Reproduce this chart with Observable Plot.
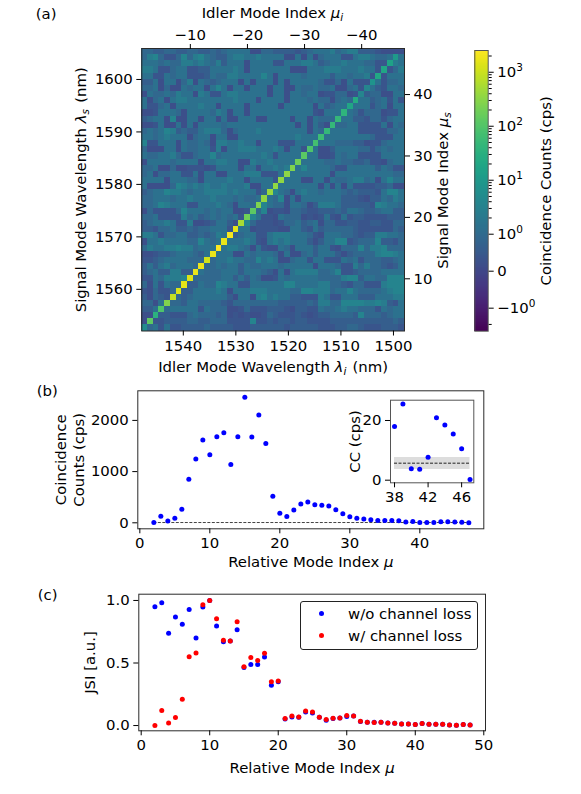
<!DOCTYPE html>
<html>
<head>
<meta charset="utf-8">
<script src="https://cdn.jsdelivr.net/npm/d3@7"></script>
<script src="https://cdn.jsdelivr.net/npm/@observablehq/plot@0.6"></script>
<style>
html,body{margin:0;padding:0;background:#fff}
#root{position:relative;width:581px;height:794px;overflow:hidden;font-family:"DejaVu Sans",sans-serif;font-size:14.9px;color:#000}
#root svg{position:absolute;overflow:visible;background:transparent}
#legend{position:absolute;left:300px;top:600.5px;width:176px;height:47px;border:1px solid #222;border-radius:3px;background:#fff}
#legend .row{position:absolute;left:47px;white-space:nowrap;line-height:16px}
#legend i{position:absolute;width:5.2px;height:5.2px;border-radius:50%}
</style>
</head>
<body>
<div id="root"></div>
<script>
// ---------- data ----------
// Coincidence counts by relative mode index (panel b, and the diagonal of panel a)
const modesB = [2,3,4,5,6,7,8,9,10,11,12,13,14,15,16,17,18,19,20,21,22,23,24,25,26,27,28,29,30,31,32,33,34,35,36,37,38,39,40,41,42,43,44,45,46,47];
const counts = [5,130,33,91,267,853,1244,1615,1329,1680,1759,1140,1680,2450,1675,2104,1550,521,189,124,248,365,404,352,345,326,254,176,117,91,72,59,46,46,46,39,18,25.5,3.8,3.7,7.7,20.9,18.5,15.5,10.5,0.2];
const noiseMean = 5.7, noiseLow = 3.6, noiseHigh = 7.6;

// JSI (panel c)
const modesC = [2,3,4,5,6,7,8,9,10,11,12,13,14,15,16,17,18,19,20,21,22,23,24,25,26,27,28,29,30,31,32,33,34,35,36,37,38,39,40,41,42,43,44,45,46,47,48];
const jsiNoLoss = [.949,.981,.737,.867,.809,.928,.70,.947,1,.795,.67,.675,.766,.465,.489,.489,.548,.322,.351,.053,.069,.066,.109,.101,.066,.043,.056,.061,.072,.077,.032,.027,.027,.027,.021,.019,.013,.013,.008,.016,.011,.011,.011,.005,.003,.008,.005];
const jsiLoss = [0,.12,.021,.064,.21,.55,.58,.965,1,.854,.681,.675,.83,.471,.543,.519,.577,.351,.356,.056,.077,.069,.117,.109,.066,.048,.059,.061,.08,.077,.035,.027,.024,.027,.021,.019,.013,.013,.008,.016,.011,.011,.011,.005,.003,.008,.005];

// Off-diagonal background of panel a, as estimated colour levels; top row = signal mode 47, left column = idler mode 2
const levelCounts = [-0.1,0.2,0.38,0.62,0.92,1.4,2.3,3.6,5.7];
const heatRows = [
"443344334433434 5555114433332345 556456633321111",
"467422474675433 5665565555115151 455522566544575",
"555454466565463 5551555522555665 345565554422465",
"665224552233555 5651555555511155 566655565522246",
"552254552223544 6655557515555455 553554556222555",
"335155146154345 5515155515155555 422415222152445",
"445141154551575 1551555155115445 445114522532554",
"154454655165225 6655555155155455 122441223441155",
"514515665555555 5655515555155545 441454755345252",
"522451555565515 5551555551555551 534554555245155",
"112555415555465 1551555555555552 155555424441225",
"345517115515515 1155511555515515 444555332442455",
"112511515155554 5555555555551515 312445522225154",
"454576343356664 1455565555555515 445555522222445",
"554565551455155 1155555555556555 755555555422255",
"722555154454166 5565515552225557 555444331224555",
"411155154455261 5566655565155255 113555544245455",
"544556422455745 5555556525555555 112545522225555",
"155554555515566 5511655655555555 544544334221455",
"445114112221255 5515515565655755 554225555535422",
"451445522515511 5556662225555555 551555555555544",
"555515554415555 6551555525555115 515445664515755",
"511114765656556 5556115555555555 151515222233411",
"345576654556666 5655524475415655 455543433325775",
"445554556555655 5454455547151555 555533321335465",
"445765552255565 4155457544155413 666533333276554",
"142222475554545 5112247122144322 333435543345533",
"445222264534545 4524752215444121 252152332222333",
"345565226112355 3117422212445345 144223322332244",
"332445334344555 2755122221155325 344444322222243",
"665244553343465 7345522566655542 155544323366554",
"155655554475453 5556521565655531 355772344473324",
"465566766455565 6654152115415553 552144474667444",
"112334555435555 5115455541511453 555313444467765",
"223455554444455 6554475651145525 522254524443345",
"353564555454454 5535445554555551 555422646443235",
"345336633554445 5535554315156666 445722344445555",
"225466673444445 5353541125455555 444467735544777",
"415254443354476 5522555555775555 664432442226777",
"214224533555565 1555666555544776 664557544445677",
"314325434555555 3155167565533222 652255533355566",
"441554435544443 2444444443333343 664477776676325",
"335545555525444 1124222333213322 544565544425455",
"113332224544434 1212112432223212 334444374443455",
"112233334433444 2222722323323322 223333333333343",
"645252233334333 3222333333233333 222334432223332"
].map(s => s.replace(/ /g, ""));

// Tick values and labels
const idlerModeTicks = [-10,-20,-30,-40];
const signalModeTicks = [10,20,30,40];
const idlerWavelengthTicks = [1540,1530,1520,1510,1500];
const signalWavelengthTicks = [1560,1570,1580,1590,1600];
const colorbarTicks = [-1,0,1,10,100,1000];
const colorbarLabels = ["−10⁰","0","10⁰","10¹","10²","10³"];
const colorbarMinorTicks = [-2,2,3,4,5,6,7,8,9,20,30,40,50,60,70,80,90,200,300,400,500,600,700,800,900,2000];

// ---------- helpers ----------
// symmetric-log colour position of a count value
const LIN = 0.685;
const sym = v => { const a = Math.abs(v); const t = a <= 1 ? LIN * a : LIN + Math.log10(a); return v < 0 ? -t : t; };
const colorDomain = [sym(-2.67), sym(2530)];
const idlerLambdaToMode = l => -1.5 - (1547.9 - l) * 46 / 50;
const signalLambdaToMode = l => 1.5 + (l - 1552.06) * 46 / 53.84;

const cells = [];
heatRows.forEach((row, r) => {
  const ms = 47 - r;
  for (let c = 0; c < 46; ++c) {
    const mi = 2 + c;
    const level = +row[c];
    const value = ms === mi ? counts[modesB.indexOf(mi)] : levelCounts[level];
    cells.push({mi: -mi, ms, value});
  }
});
const ptsB = modesB.map((m, i) => ({m, v: counts[i]}));
const ptsC1 = modesC.map((m, i) => ({m, v: jsiNoLoss[i]}));
const ptsC2 = modesC.map((m, i) => ({m, v: jsiLoss[i]}));

const root = document.getElementById("root");
const FS = 14.9;
const baseStyle = {fontFamily: '"DejaVu Sans", sans-serif', fontSize: FS + "px", background: "transparent", color: "#000"};
const FRAME = "#2a2a2a";
const SVGNS = "http://www.w3.org/2000/svg";
const SUP = {"⁰": "0", "¹": "1", "²": "2", "³": "3"};

function addSpan(holder, txt, attrs) {
  const e = document.createElementNS(SVGNS, "tspan");
  e.textContent = txt;
  for (const k in attrs) e.setAttribute(k, attrs[k]);
  holder.appendChild(e);
}
function mathify(svg) {
  svg.querySelectorAll("text").forEach(t => {
    if (t.querySelectorAll("tspan").length > 1) return;
    const holder = t.querySelector("tspan") || t;
    const s = t.textContent;
    const sup = s.match(/^(.*10)([⁰¹²³])$/);
    if (sup) {
      holder.textContent = "";
      addSpan(holder, sup[1], {});
      addSpan(holder, SUP[sup[2]], {"font-size": "10.5px", dy: "-6"});
      return;
    }
    const m = s.match(/^(.*)([λμ])([is]?)(.*)$/);
    if (!m) return;
    holder.textContent = "";
    addSpan(holder, m[1], {});
    addSpan(holder, m[2], {"font-style": "italic"});
    if (m[3]) {
      addSpan(holder, m[3], {"font-style": "italic", "font-size": "10.5px", dy: "3"});
      addSpan(holder, "\u200a", {dy: "-3", "font-size": FS + "px"});
    }
    addSpan(holder, m[4], {});
  });
}
function place(svg, left, top) {
  svg.style.left = left + "px";
  svg.style.top = top + "px";
  mathify(svg);
  root.appendChild(svg);
}
const panelTag = (txt, dx, dy) => Plot.text([txt], {frameAnchor: "top-left", dx, dy, textAnchor: "start", fontSize: FS});
const str = d => String(d);

// ---------- panel a ----------
place(Plot.plot({
  width: 470, height: 375,
  marginLeft: 141.3, marginRight: 66, marginTop: 48, marginBottom: 44.5,
  style: baseStyle,
  x: {domain: [-1.5, -47.5], axis: null},
  y: {domain: [1.5, 47.5], axis: null},
  color: {type: "linear", scheme: "viridis", domain: colorDomain},
  marks: [
    Plot.rect(cells, {x1: d => d.mi + 0.5, x2: d => d.mi - 0.5, y1: d => d.ms - 0.5, y2: d => d.ms + 0.5, fill: d => sym(d.value), shapeRendering: "crispEdges"}),
    Plot.frame({stroke: FRAME}),
    Plot.axisX({anchor: "top", ticks: idlerModeTicks, tickFormat: d => "−" + Math.abs(d), tickSize: 5, tickPadding: 4, label: "Idler Mode Index μi", labelAnchor: "center", labelArrow: "none", labelOffset: 41}),
    Plot.axisX({anchor: "bottom", ticks: idlerWavelengthTicks.map(idlerLambdaToMode), tickFormat: (d, i) => str(idlerWavelengthTicks[i]), tickSize: 5, tickPadding: 4, label: "Idler Mode Wavelength λi (nm)", labelAnchor: "center", labelArrow: "none", labelOffset: 41}),
    Plot.axisY({anchor: "left", ticks: signalWavelengthTicks.map(signalLambdaToMode), tickFormat: (d, i) => str(signalWavelengthTicks[i]), tickSize: 5, tickPadding: 4, label: "Signal Mode Wavelength λs (nm)", labelAnchor: "center", labelArrow: "none", labelOffset: 66}),
    Plot.axisY({anchor: "right", ticks: signalModeTicks, tickFormat: str, tickSize: 5, tickPadding: 4, label: "Signal Mode Index μs", labelAnchor: "center", labelArrow: "none", labelOffset: 43}),
    panelTag("(a)", -106, -40)
  ]
}), 0, 0);

// ---------- colour bar ----------
const barSteps = d3.range(0, 256).map(i => colorDomain[0] + (colorDomain[1] - colorDomain[0]) * i / 256);
const barH = (colorDomain[1] - colorDomain[0]) / 256;
place(Plot.plot({
  width: 116, height: 300,
  marginLeft: 9.3, marginRight: 93.3, marginTop: 10, marginBottom: 9.3,
  style: baseStyle,
  x: {domain: [0, 1], axis: null},
  y: {domain: colorDomain, axis: null},
  color: {type: "linear", scheme: "viridis", domain: colorDomain},
  marks: [
    Plot.rect(barSteps, {x1: 0, x2: 1, y1: d => d, y2: d => d + barH * 1.02, fill: d => d + barH / 2, shapeRendering: "crispEdges"}),
    Plot.frame({stroke: "#555"}),
    Plot.axisY({anchor: "right", ticks: colorbarMinorTicks.map(sym), tickSize: 3, tickFormat: () => "", label: null}),
    Plot.axisY({anchor: "right", ticks: colorbarTicks.map(sym), tickFormat: (d, i) => colorbarLabels[i], tickSize: 5, tickPadding: 4, textAnchor: "start", label: "Coincidence Counts (cps)", labelAnchor: "center", labelArrow: "none", labelOffset: 63})
  ]
}), 465, 40);

// ---------- panel b ----------
place(Plot.plot({
  width: 581, height: 200,
  marginLeft: 137.3, marginRight: 97.7, marginTop: 12.3, marginBottom: 49.7,
  style: baseStyle,
  x: {domain: [-0.29, 49.14], axis: null},
  y: {domain: [-117, 2578], axis: null},
  marks: [
    Plot.frame({stroke: FRAME}),
    Plot.ruleY([noiseMean], {x1: modesB[0], x2: modesB[modesB.length - 1], stroke: "#444", strokeWidth: 1, strokeDasharray: "3,1.5"}),
    Plot.dot(ptsB, {x: "m", y: "v", r: 2.5, fill: "#0000ff"}),
    Plot.axisX({anchor: "bottom", ticks: [0,10,20,30,40], tickFormat: str, tickSize: 5, tickPadding: 4, label: "Relative Mode Index μ", labelAnchor: "center", labelArrow: "none", labelOffset: 38}),
    Plot.axisY({anchor: "left", ticks: [0,1000,2000], tickFormat: str, tickSize: 5, tickPadding: 4, label: null}),
    Plot.text(["Coincidence\nCounts (cps)"], {frameAnchor: "left", dx: -69, rotate: -90, textAnchor: "middle", lineHeight: 1.22, fontSize: FS}),
    panelTag("(b)", -101, -5)
  ]
}), 0, 378);

// ---------- inset of b ----------
const insetB = ptsB.filter(d => d.m >= 38);
place(Plot.plot({
  width: 140, height: 125,
  marginLeft: 50, marginRight: 6.7, marginTop: 14.7, marginBottom: 27.7,
  style: baseStyle,
  x: {domain: [37.52, 47.45], axis: null},
  y: {domain: [-0.87, 26.8], axis: null},
  marks: [
    Plot.frame({fill: "#fff", stroke: "#555"}),
    Plot.rect([0], {x1: 38, x2: 47, y1: noiseLow, y2: noiseHigh, fill: "#ddd"}),
    Plot.ruleY([noiseMean], {x1: 38, x2: 47, stroke: "#222", strokeWidth: 1, strokeDasharray: "3,1.5"}),
    Plot.dot(insetB, {x: "m", y: "v", r: 2.5, fill: "#0000ff"}),
    Plot.axisX({anchor: "bottom", ticks: [38,42,46], tickFormat: str, tickSize: 5, tickPadding: 4, label: null}),
    Plot.axisY({anchor: "left", ticks: [0,20], tickFormat: str, tickSize: 5, tickPadding: 4, label: "CC (cps)", labelAnchor: "center", labelArrow: "none", labelOffset: 41})
  ]
}), 340, 385);

// ---------- panel c ----------
place(Plot.plot({
  width: 581, height: 216,
  marginLeft: 138.3, marginRight: 96, marginTop: 15.7, marginBottom: 63.7,
  style: baseStyle,
  x: {domain: [-0.35, 50.25], axis: null},
  y: {domain: [-0.042, 1.05], axis: null},
  marks: [
    Plot.frame({stroke: FRAME}),
    Plot.dot(ptsC1, {x: "m", y: "v", r: 2.5, fill: "#0000ff"}),
    Plot.dot(ptsC2, {x: "m", y: "v", r: 2.5, fill: "#ff0000"}),
    Plot.axisX({anchor: "bottom", ticks: [0,10,20,30,40,50], tickFormat: str, tickSize: 5, tickPadding: 4, label: "Relative Mode Index μ", labelAnchor: "center", labelArrow: "none", labelOffset: 42}),
    Plot.axisY({anchor: "left", ticks: [0,0.5,1], tickFormat: d => d3.format(".1f")(d), tickSize: 5, tickPadding: 4, label: "JSI [a.u.]", labelAnchor: "center", labelArrow: "none", labelOffset: 54}),
    panelTag("(c)", -101, -5)
  ]
}), 0, 578);

// ---------- legend of c ----------
const legend = document.createElement("div");
legend.id = "legend";
legend.innerHTML = '<i style="left:18px;top:9.5px;background:#00f"></i><div class="row" style="top:4px">w/o channel loss</div>' +
                   '<i style="left:18px;top:31px;background:#f00"></i><div class="row" style="top:26px">w/ channel loss</div>';
root.appendChild(legend);
</script>
</body>
</html>
